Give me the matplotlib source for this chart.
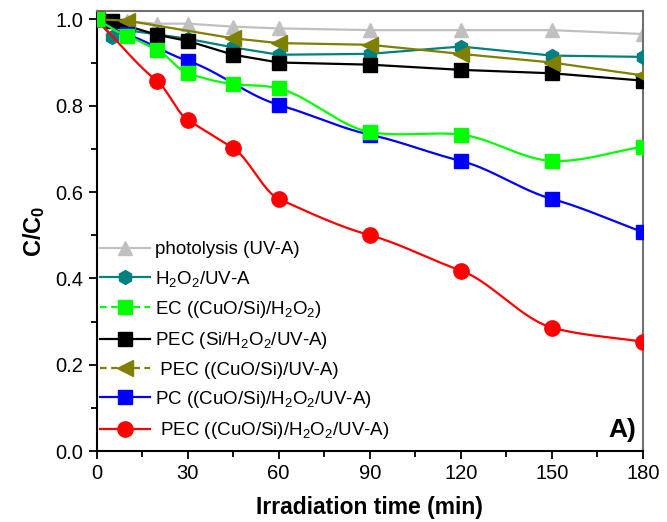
import numpy as np
import matplotlib
matplotlib.use("Agg")
import matplotlib.pyplot as plt
from matplotlib.lines import Line2D

plt.rcParams['font.family'] = ['Liberation Sans', 'DejaVu Sans']
plt.rcParams['mathtext.fontset'] = 'custom'
plt.rcParams['mathtext.rm'] = 'Liberation Sans'
plt.rcParams['mathtext.it'] = 'Liberation Sans:italic'
plt.rcParams['mathtext.bf'] = 'Liberation Sans:bold'

# data (time in min, C/C0)
t_photo = [0, 10, 20, 30, 45, 60, 90, 120, 150, 180]
y_photo = [1.0, 0.995, 0.99, 0.99, 0.983, 0.979, 0.975, 0.975, 0.975, 0.966]

t_h2o2 = [0, 5, 10, 20, 30, 45, 60, 90, 120, 150, 180]
y_h2o2 = [1.0, 0.96, 0.975, 0.965, 0.955, 0.935, 0.918, 0.92, 0.937, 0.916, 0.913]

t_ec = [0, 10, 20, 30, 45, 60, 90, 120, 150, 180]
y_ec = [1.0, 0.962, 0.929, 0.875, 0.85, 0.84, 0.739, 0.733, 0.672, 0.705]

t_pec_si = [0, 5, 10, 20, 30, 45, 60, 90, 120, 150, 180]
y_pec_si = [1.0, 0.995, 0.985, 0.964, 0.95, 0.918, 0.9, 0.895, 0.883, 0.875, 0.858]

t_pec_cuo = [0, 10, 45, 60, 90, 120, 150, 180]
y_pec_cuo = [1.0, 0.997, 0.956, 0.945, 0.941, 0.92, 0.9, 0.87]

t_pc = [0, 10, 30, 60, 90, 120, 150, 180]
y_pc = [1.0, 0.965, 0.904, 0.802, 0.733, 0.672, 0.584, 0.507]

t_pec = [0, 20, 30, 45, 60, 90, 120, 150, 180]
y_pec = [1.0, 0.857, 0.767, 0.702, 0.584, 0.50, 0.418, 0.286, 0.253]

labels = ['photolysis (UV-A)',
          'H$_2$O$_2$/UV-A',
          'EC ((CuO/Si)/H$_2$O$_2$)',
          'PEC (Si/H$_2$O$_2$/UV-A)',
          ' PEC ((CuO/Si)/UV-A)',
          'PC ((CuO/Si)/H$_2$O$_2$/UV-A)',
          ' PEC ((CuO/Si)/H$_2$O$_2$/UV-A)']


# cardinal spline, only used to draw the smooth connecting line
def smooth_line(x, y, tension=0.3, n=300):
    x = np.asarray(x, float)
    y = np.asarray(y, float)
    h = np.diff(x)
    m = np.zeros(len(x))
    m[1:-1] = (1 - tension) * (y[2:] - y[:-2]) / (x[2:] - x[:-2])
    m[0] = (y[1] - y[0]) / h[0]
    m[-1] = (y[-1] - y[-2]) / h[-1]
    xs = np.linspace(x[0], x[-1], n)
    j = np.clip(np.searchsorted(x, xs) - 1, 0, len(x) - 2)
    s = (xs - x[j]) / h[j]
    h00 = 2 * s**3 - 3 * s**2 + 1
    h10 = s**3 - 2 * s**2 + s
    h01 = -2 * s**3 + 3 * s**2
    h11 = s**3 - s**2
    ys = h00 * y[j] + h10 * h[j] * m[j] + h01 * y[j + 1] + h11 * h[j] * m[j + 1]
    return xs, ys


fig = plt.figure(figsize=(6.67, 5.22), dpi=100)
ax = fig.add_axes([0.1447, 0.136, 0.8193, 0.8435])

lw = 1.6
# straight lines
ax.plot(t_photo, y_photo, color='#c0c0c0', lw=lw, marker='^', ms=10, zorder=2)
ax.plot(t_h2o2, y_h2o2, color='#008080', lw=lw, marker='h', ms=10, zorder=3)
ax.plot(t_pec_si, y_pec_si, color='black', lw=lw, marker='s', ms=9.5, zorder=4)
ax.plot(t_pec_cuo, y_pec_cuo, color='#808000', lw=lw, marker='<', ms=11, zorder=5)

# smooth lines
xs, ys = smooth_line(t_pc, y_pc)
ax.plot(xs, ys, color='#0000ff', lw=lw, zorder=6)
ax.plot(t_pc, y_pc, ls='none', color='#0000ff', marker='s', ms=9.5, zorder=6)
xs, ys = smooth_line(t_pec, y_pec)
ax.plot(xs, ys, color='#ff0000', lw=lw, zorder=5.5)
ax.plot(t_pec, y_pec, ls='none', color='#ff0000', marker='o', ms=11, zorder=6.5)
xs, ys = smooth_line(t_ec, y_ec)
ax.plot(xs, ys, color='#00ff00', lw=lw, zorder=7)
ax.plot(t_ec, y_ec, ls='none', color='#00ff00', marker='s', ms=9.5, zorder=7)

# legend handles
handles = [
    Line2D([], [], color='#c0c0c0', lw=lw, marker='^', ms=10),
    Line2D([], [], color='#008080', lw=lw, marker='h', ms=10),
    Line2D([], [], color='#00ff00', lw=lw, ls=(0, (3, 2)), marker='s', ms=9.5),
    Line2D([], [], color='black', lw=lw, marker='s', ms=9.5),
    Line2D([], [], color='#808000', lw=lw, ls=(0, (3, 2)), marker='<', ms=11),
    Line2D([], [], color='#0000ff', lw=lw, marker='s', ms=9.5),
    Line2D([], [], color='#ff0000', lw=lw, marker='o', ms=11),
]
ax.legend(handles, labels, loc='lower left', frameon=False, fontsize=13.5,
          handlelength=2.7, handletextpad=0.25, labelspacing=0.55,
          borderaxespad=0.0, bbox_to_anchor=(-0.008, 0.005))

ax.set_xlim(0, 180)
ax.set_ylim(0, 1.02)
ax.set_xticks(np.arange(0, 181, 30))
ax.set_xticks(np.arange(15, 180, 30), minor=True)
ax.set_yticks(np.arange(0, 1.01, 0.2))
ax.set_yticks(np.arange(0.1, 1.0, 0.2), minor=True)
ax.set_yticklabels(['0.0', '0.2', '0.4', '0.6', '0.8', '1.0'])
ax.tick_params(which='major', direction='out', length=6, width=1.3, labelsize=14.5)
ax.tick_params(which='minor', direction='out', length=4, width=1.3)

for s in ['left', 'bottom']:
    ax.spines[s].set_linewidth(1.5)
for s in ['top', 'right']:
    ax.spines[s].set_linewidth(1.5)
    ax.spines[s].set_color('#707070')

ax.set_xlabel('Irradiation time (min)', fontsize=16.5, fontweight='bold', labelpad=9)
ax.set_ylabel(r'C/C$_\mathbf{0}$', fontsize=17, fontweight='bold', labelpad=6)
ax.text(0.987, 0.02, 'A)', transform=ax.transAxes, ha='right', va='bottom',
        fontsize=19, fontweight='bold')

fig.savefig('out.png', dpi=100)
